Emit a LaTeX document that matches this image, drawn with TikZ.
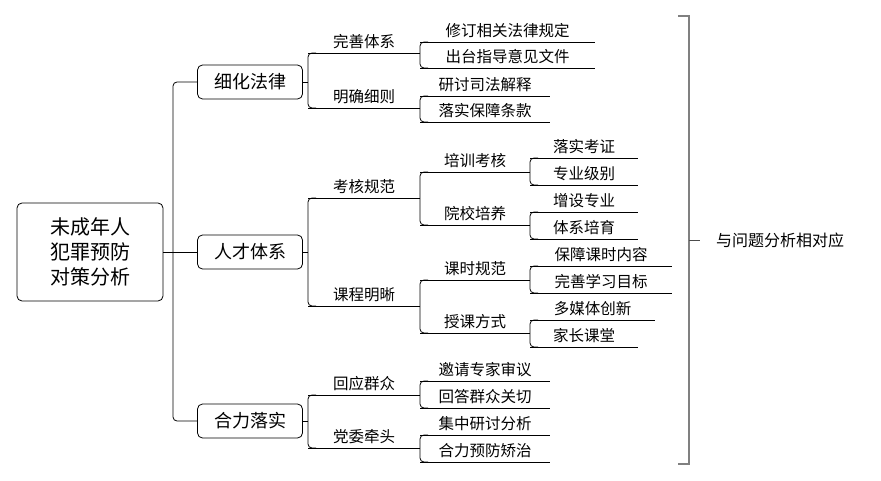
\documentclass[tikz,border=0pt]{standalone}
\usepackage{fontspec}
\setmainfont{Noto Sans CJK SC}
\usepackage{tikz}
\tikzset{%
    box/.style={draw,rounded corners=5pt,thick,minimum width=105pt,minimum height=34pt,
        inner sep=0pt,font=\fontsize{18}{20}\selectfont},
    leaf/.style={inner sep=0pt,minimum height=22pt,anchor=south west,align=center,
        font=\fontsize{15.5}{18}\selectfont},
    link/.style={thick,rounded corners=4pt}
}

\begin{document}
\begin{tikzpicture}[x=1pt,y=-1pt]
  \useasboundingbox (0,0) rectangle (881,481);

  \node[box,minimum width=146pt,minimum height=98pt,align=center,
    font=\fontsize{20}{25}\selectfont] (root) at (90,252) {未成年人\\犯罪预防\\对策分析};
  \node[box] (law) at (250,82) {细化法律};
  \node[box] (talent) at (250,252) {人才体系};
  \node[box] (unite) at (250,421) {合力落实};
  \coordinate (spine) at (173,0);

  % level two
  \node[leaf,minimum width=112pt] (a1) at (308,53) {完善体系};
  \node[leaf,minimum width=112pt] (a2) at (308,108) {明确细则};
  \node[leaf,minimum width=112pt] (b1) at (308,198) {考核规范};
  \node[leaf,minimum width=112pt] (b2) at (308,306) {课程明晰};
  \node[leaf,minimum width=112pt] (c1) at (308,395) {回应群众};
  \node[leaf,minimum width=112pt] (c2) at (308,448) {党委牵头};

  % level three
  \node[leaf,minimum width=175pt] (a11) at (420,42) {修订相关法律规定};
  \node[leaf,minimum width=175pt] (a12) at (420,68) {出台指导意见文件};
  \node[leaf,minimum width=130pt] (a21) at (420,96) {研讨司法解释};
  \node[leaf,minimum width=130pt] (a22) at (420,122) {落实保障条款};
  \node[leaf,minimum width=110pt] (b11) at (420,172) {培训考核};
  \node[leaf,minimum width=110pt] (b12) at (420,225) {院校培养};
  \node[leaf,minimum width=110pt] (b21) at (420,280) {课时规范};
  \node[leaf,minimum width=110pt] (b22) at (420,333) {授课方式};
  \node[leaf,minimum width=130pt] (c11) at (420,381) {邀请专家审议};
  \node[leaf,minimum width=130pt] (c12) at (420,408) {回答群众关切};
  \node[leaf,minimum width=130pt] (c21) at (420,435) {集中研讨分析};
  \node[leaf,minimum width=130pt] (c22) at (420,462) {合力预防矫治};

  % level four
  \node[leaf,minimum width=108pt] (b111) at (530,158) {落实考证};
  \node[leaf,minimum width=108pt] (b112) at (530,185) {专业级别};
  \node[leaf,minimum width=108pt] (b121) at (530,212) {增设专业};
  \node[leaf,minimum width=108pt] (b122) at (530,239) {体系培育};
  \node[leaf,minimum width=142pt] (b211) at (530,266) {保障课时内容};
  \node[leaf,minimum width=142pt] (b212) at (530,293) {完善学习目标};
  \node[leaf,minimum width=125pt] (b221) at (530,320) {多媒体创新};
  \node[leaf,minimum width=108pt] (b222) at (530,347) {家长课堂};

  % underlines
  \foreach \n in {a1,a2,b1,b2,c1,c2,a11,a12,a21,a22,b11,b12,b21,b22,c11,c12,c21,c22,
      b111,b112,b121,b122,b211,b212,b221,b222}
    \draw[thick] (\n.south west) -- (\n.south east);

  % forks
  \draw[thick] (root.east) -- (talent.west);
  \draw[link] (law.west) -- (law.west -| spine) -- (unite.west -| spine) -- (unite.west);
  \foreach \p/\u/\v in {law/a1/a2,talent/b1/b2,unite/c1/c2}
    \draw[thick] (\p.east) -- (\p.east -| \u.south west);
  \foreach \u/\v in {a1/a2,b1/b2,c1/c2,a11/a12,a21/a22,b11/b12,b21/b22,c11/c12,c21/c22,
      b111/b112,b121/b122,b211/b212,b221/b222}
    \draw[link] ([xshift=8pt]\u.south west) -- (\u.south west) -- (\v.south west)
      -- ([xshift=8pt]\v.south west);

  % bracket
  \coordinate (top) at (678,16);
  \coordinate (bottom) at (678,464);
  \node[anchor=west,inner sep=0pt,font=\fontsize{16}{18}\selectfont] (note) at (716,240) {与问题分析相对应};
  \draw[gray,line width=1.5pt] (top) -- ++(11,0) -- ([xshift=11pt]bottom) -- (bottom);
  \draw[thick,gray!60!black] (689,240) -- ++(11,0);
\end{tikzpicture}
\end{document}
